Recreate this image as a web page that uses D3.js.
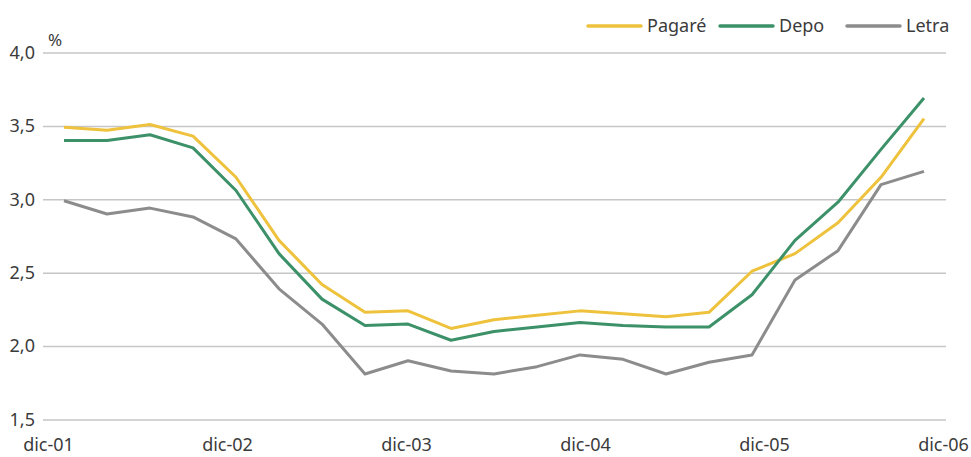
<!DOCTYPE html>
<html>
<head>
<meta charset="utf-8">
<script src="https://cdn.jsdelivr.net/npm/d3@7"></script>
<style>
  body { margin: 0; background: #fff; }
  text { font-family: "Noto Sans", sans-serif; fill: #3b3b3b; }
</style>
</head>
<body>
<div class="chart"></div>
<script>
// quarterly data, dic-01 .. dic-06
const quarters = d3.range(21)
const xLabels = ["dic-01", "dic-02", "dic-03", "dic-04", "dic-05", "dic-06"]
const yTicks = [1.5, 2.0, 2.5, 3.0, 3.5, 4.0]

const pagare = [3.49, 3.47, 3.51, 3.43, 3.15, 2.72, 2.42, 2.23, 2.24, 2.12, 2.18,
                2.21, 2.24, 2.22, 2.20, 2.23, 2.51, 2.63, 2.84, 3.15, 3.55]
const depo   = [3.40, 3.40, 3.44, 3.35, 3.06, 2.63, 2.32, 2.14, 2.15, 2.04, 2.10,
                2.13, 2.16, 2.14, 2.13, 2.13, 2.35, 2.72, 2.98, 3.34, 3.69]
const letra  = [2.99, 2.90, 2.94, 2.88, 2.73, 2.39, 2.15, 1.81, 1.90, 1.83, 1.81,
                1.86, 1.94, 1.91, 1.81, 1.89, 1.94, 2.45, 2.65, 3.10, 3.19]

const seriesNames = ["Pagaré", "Depo", "Letra"]
const seriesColors = ["#eec23c", "#3c9169", "#8c8c8c"]

const width = 971, height = 457

let svg = d3.select(".chart").append("svg")
    .attr("width", width)
    .attr("height", height)

let x = d3.scaleLinear()
    .domain([0, 20])
    .range([64, 924])

// category labels sit a bit wider than the data points
let xLabel = d3.scaleLinear()
    .domain([0, 20])
    .range([48, 943])

let y = d3.scaleLinear()
    .domain([1.5, 4.0])
    .range([419.5, 52.5])

// gridlines + y labels
let yAxis = d3.axisLeft(y)
    .tickValues(yTicks)
    .tickSize(-(946 - 43))
    .tickPadding(8)
    .tickFormat(d => d3.format(".1f")(d).replace(".", ","))

let gy = svg.append("g")
    .attr("transform", "translate(43,0)")
    .call(yAxis)
gy.select(".domain").remove()
gy.selectAll(".tick line")
    .attr("stroke", "#c6c6c6")
    .attr("stroke-width", 1.5)
gy.selectAll(".tick text")
    .style("font-size", "18px")
    .attr("fill", "#3b3b3b")

svg.append("text")
    .attr("x", 48)
    .attr("y", 46)
    .style("font-size", "17px")
    .text("%")

// x labels
let xAxis = d3.axisBottom(xLabel)
    .tickValues([0, 4, 8, 12, 16, 20])
    .tickSize(0)
    .tickPadding(0)
    .tickFormat((d, i) => xLabels[i])

let gx = svg.append("g")
    .attr("transform", "translate(0,438)")
    .call(xAxis)
gx.select(".domain").remove()
gx.selectAll(".tick text")
    .attr("dy", "0.71em")
    .style("font-size", "18px")
    .attr("fill", "#3b3b3b")

// lines
let line = d3.line()
    .x((d, i) => x(quarters[i]))
    .y(d => y(d))

let allSeries = [pagare, depo, letra]

svg.selectAll("path.series")
    .data(allSeries)
    .enter().append("path")
    .attr("class", "series")
    .attr("d", line)
    .attr("fill", "none")
    .attr("stroke", (d, i) => seriesColors[i])
    .attr("stroke-width", 3)
    .attr("stroke-linejoin", "round")

// legend
let legendX = [588, 720, 847]

let legend = svg.selectAll("g.legend")
    .data(seriesNames)
    .enter().append("g")
    .attr("class", "legend")
    .attr("transform", (d, i) => `translate(${legendX[i]},26)`)

legend.append("line")
    .attr("x1", 0)
    .attr("x2", 53)
    .attr("stroke", (d, i) => seriesColors[i])
    .attr("stroke-width", 3.5)
    .attr("stroke-linecap", "round")

legend.append("text")
    .attr("x", 59)
    .attr("y", 6)
    .style("font-size", "18px")
    .text(d => d)
</script>
</body>
</html>
